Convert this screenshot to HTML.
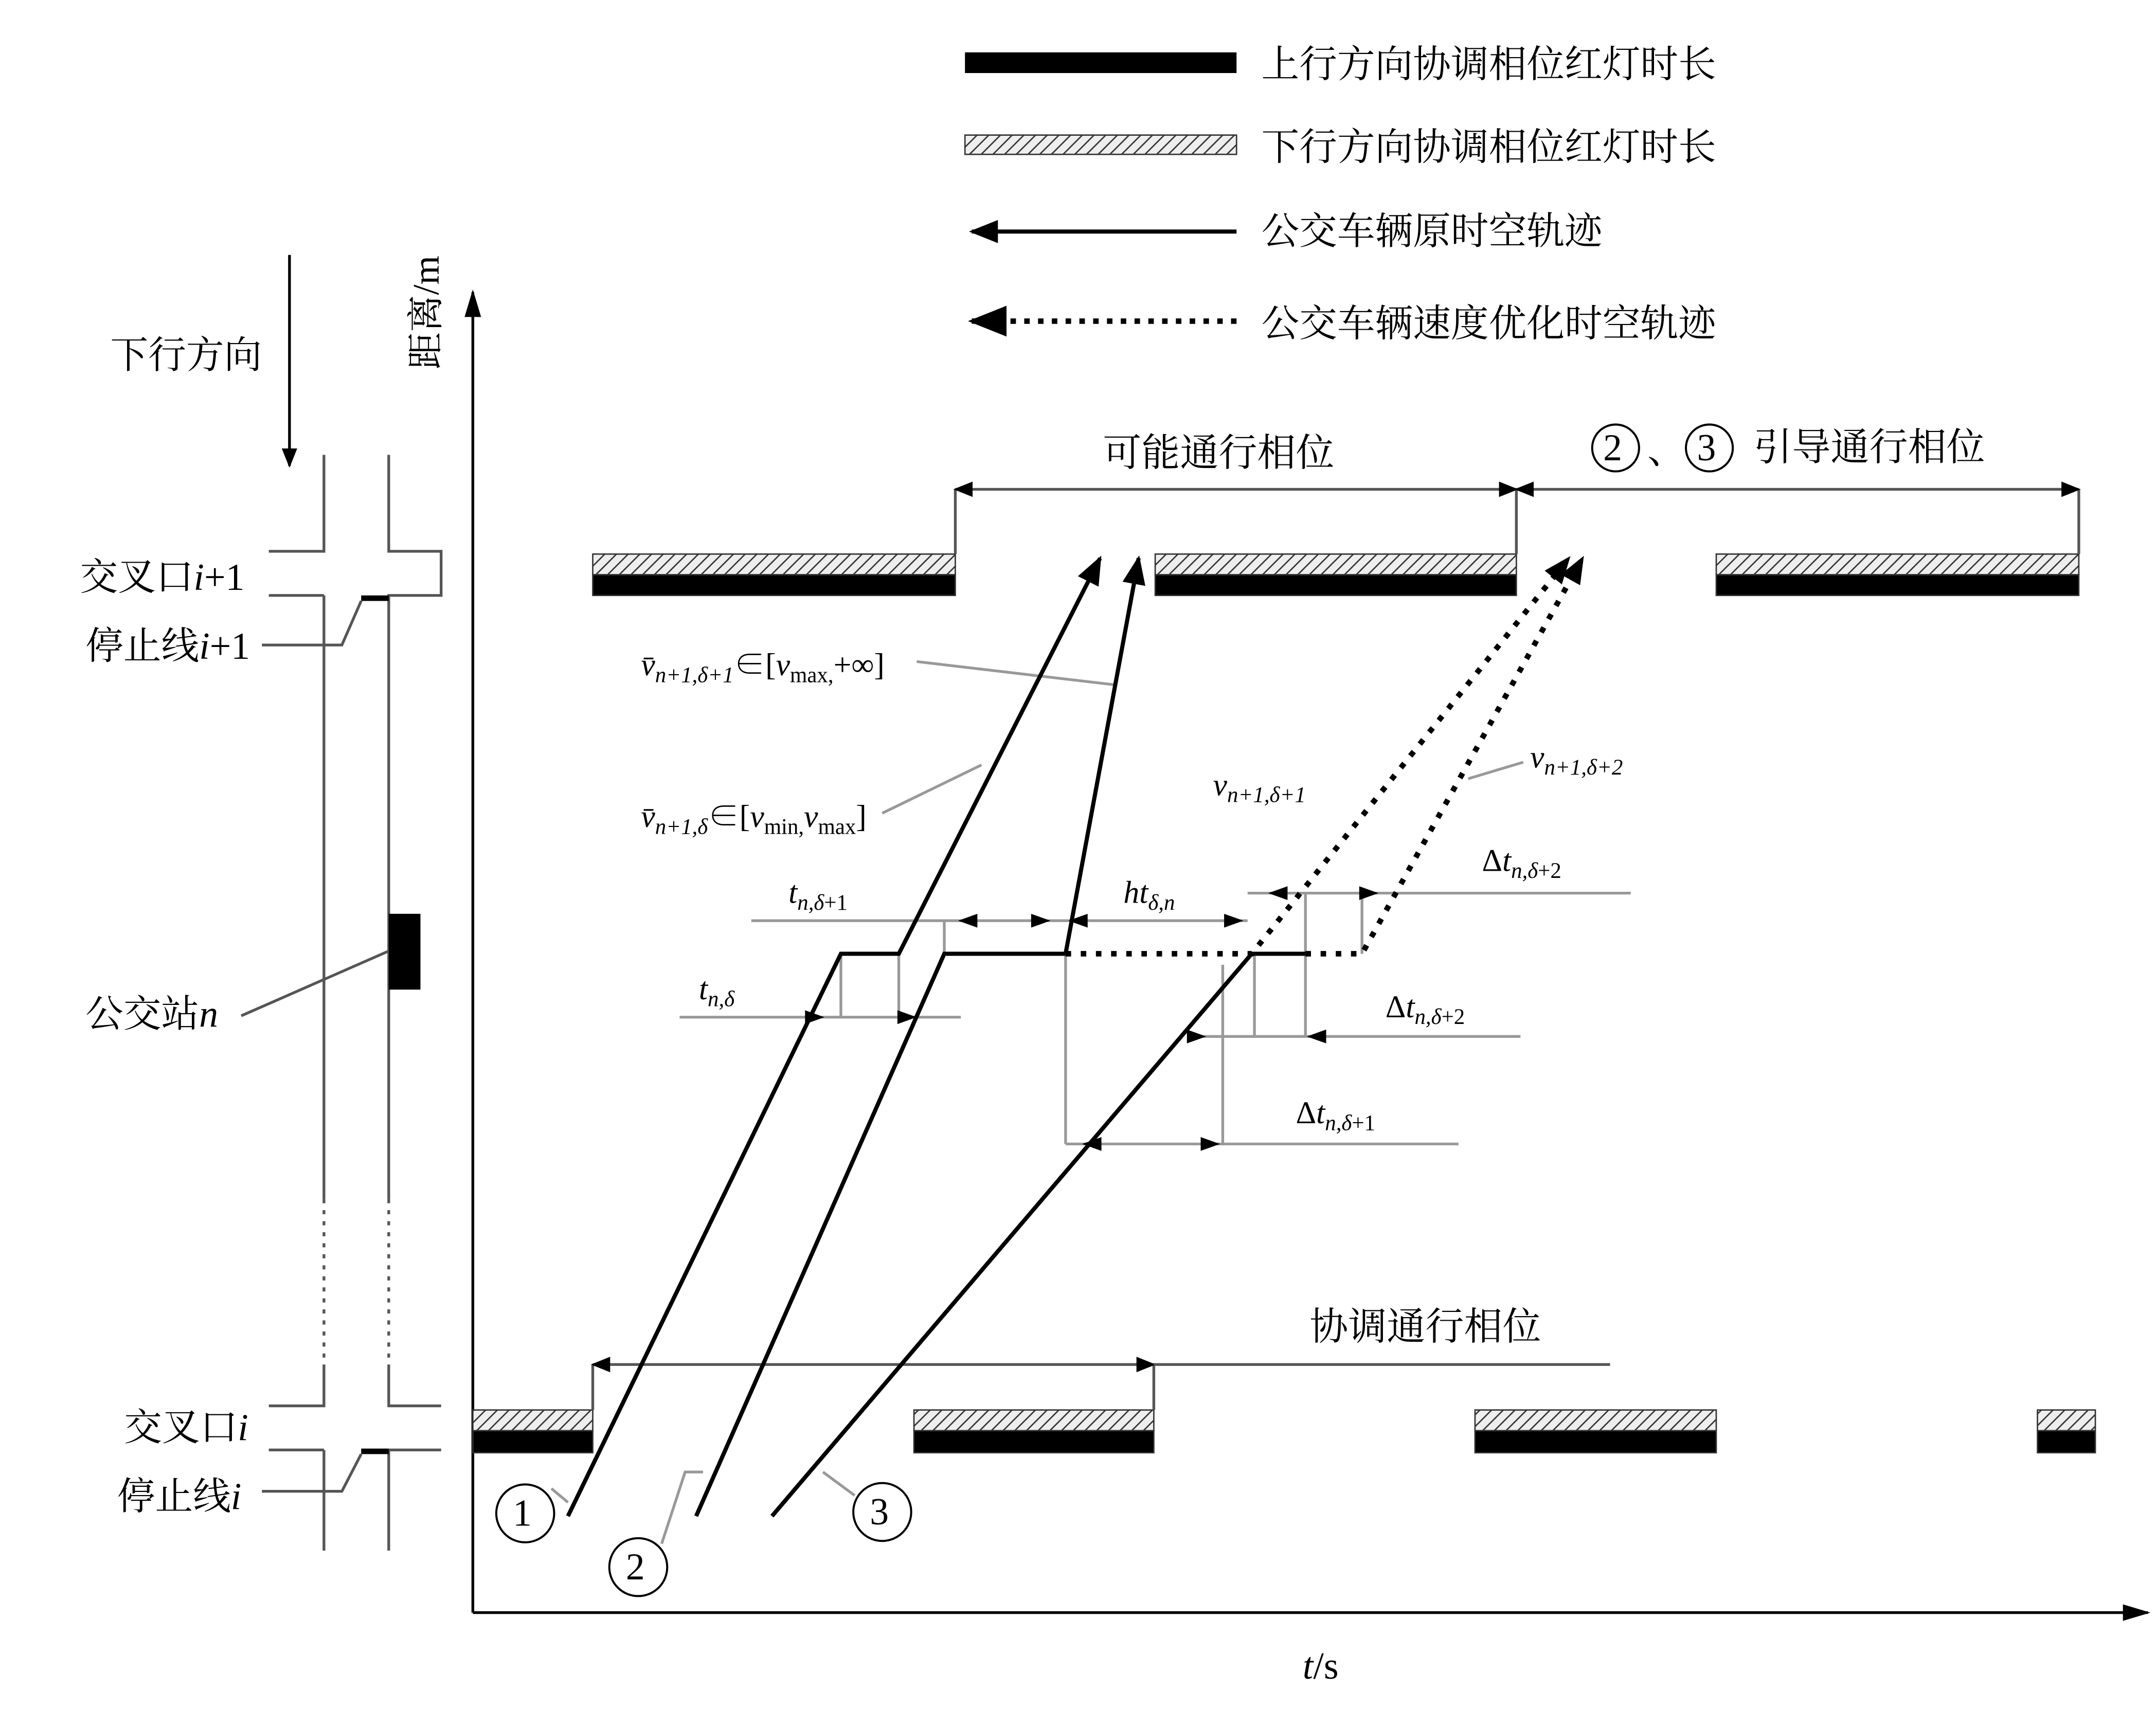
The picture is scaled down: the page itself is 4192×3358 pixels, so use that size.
<!DOCTYPE html>
<html><head><meta charset="utf-8"><style>html,body{margin:0;padding:0;background:#fff}svg{display:block}</style></head><body>
<svg width="4192" height="3358" viewBox="0 0 1564 1253" preserveAspectRatio="none" xmlns="http://www.w3.org/2000/svg">
<defs>
<pattern id="h" width="6" height="6" patternUnits="userSpaceOnUse" patternTransform="rotate(45)"><rect width="6" height="6" fill="#eee"/><line x1="0" y1="0" x2="0" y2="6" stroke="#333" stroke-width="2"/></pattern>
<marker id="a" viewBox="0 0 10 10" refX="9" refY="5" markerWidth="7" markerHeight="7" orient="auto-start-reverse"><path d="M0,1 L10,5 L0,9 z" fill="#000"/></marker>
<marker id="d" viewBox="0 0 10 10" refX="9" refY="5" markerWidth="5" markerHeight="5" orient="auto-start-reverse"><path d="M0,1 L10,5 L0,9 z" fill="#000"/></marker>
<marker id="s" viewBox="0 0 10 10" refX="9" refY="5" markerWidth="10" markerHeight="10" orient="auto-start-reverse"><path d="M0,2 L10,5 L0,8 z" fill="#000"/></marker>
</defs>
<g font-family="'Liberation Serif','Noto Serif CJK SC',serif" font-size="27.5" fill="#000">
<!-- legend -->
<rect x="700" y="38" width="197" height="15" fill="#000"/>
<text x="915" y="56">上行方向协调相位红灯时长</text>
<rect x="700" y="98" width="197" height="14" fill="url(#h)" stroke="#333"/>
<text x="915" y="116">下行方向协调相位红灯时长</text>
<line x1="897" y1="168" x2="705" y2="168" stroke="#000" stroke-width="3" marker-end="url(#a)"/>
<text x="915" y="177">公交车辆原时空轨迹</text>
<line x1="897" y1="233" x2="705" y2="233" stroke="#000" stroke-width="4" stroke-dasharray="4 6" marker-end="url(#a)"/>
<text x="915" y="244">公交车辆速度优化时空轨迹</text>

<!-- left schematic -->
<line x1="210" y1="185" x2="210" y2="338" stroke="#000" stroke-width="2" marker-end="url(#a)"/>
<text x="80" y="267">下行方向</text>
<g stroke="#555" stroke-width="2" fill="none">
<path d="M235,330 V400 H195 M282,330 V400 H320 V432 H282 V870 M235,432 H195 M235,432 V870 M235,990 V1020 H195 M282,990 V1020 H320 M235,1052 H195 M282,1052 H320 M235,1052 V1125 M282,1052 V1125"/>
<path d="M235,870 V990 M282,870 V990" stroke-dasharray="3 5"/>
<path d="M190,468 H248 L262,436 M190,1082 H248 L262,1055 M175,737 L282,690"/>
</g>
<line x1="262" y1="434" x2="282" y2="434" stroke="#000" stroke-width="4"/>
<line x1="262" y1="1053" x2="282" y2="1053" stroke="#000" stroke-width="4"/>
<rect x="282" y="663" width="23" height="55" fill="#000"/>
<text x="58" y="428">交叉口<tspan font-style="italic">i</tspan>+1</text>
<text x="62" y="478">停止线<tspan font-style="italic">i</tspan>+1</text>
<text x="62" y="745">公交站<tspan font-style="italic">n</tspan></text>
<text x="90" y="1045">交叉口<tspan font-style="italic">i</tspan></text>
<text x="85" y="1095">停止线<tspan font-style="italic">i</tspan></text>

<!-- axes -->
<line x1="343" y1="1170" x2="343" y2="212" stroke="#000" stroke-width="2" marker-end="url(#s)"/>
<line x1="343" y1="1170" x2="1558" y2="1170" stroke="#000" stroke-width="2" marker-end="url(#s)"/>
<text transform="translate(318,268) rotate(-90)" font-size="27">距离/m</text>
<text x="945" y="1218"><tspan font-style="italic">t</tspan>/s</text>

<!-- red bars -->
<g stroke="#333" stroke-width="1">
<rect x="430" y="402" width="263" height="15" fill="url(#h)"/><rect x="430" y="417" width="263" height="15" fill="#000"/>
<rect x="838" y="402" width="262" height="15" fill="url(#h)"/><rect x="838" y="417" width="262" height="15" fill="#000"/>
<rect x="1245" y="402" width="263" height="15" fill="url(#h)"/><rect x="1245" y="417" width="263" height="15" fill="#000"/>
<rect x="343" y="1023" width="87" height="15" fill="url(#h)"/><rect x="343" y="1038" width="87" height="16" fill="#000"/>
<rect x="663" y="1023" width="174" height="15" fill="url(#h)"/><rect x="663" y="1038" width="174" height="16" fill="#000"/>
<rect x="1070" y="1023" width="175" height="15" fill="url(#h)"/><rect x="1070" y="1038" width="175" height="16" fill="#000"/>
<rect x="1478" y="1023" width="42" height="15" fill="url(#h)"/><rect x="1478" y="1038" width="42" height="16" fill="#000"/>
</g>

<!-- brackets -->
<g stroke="#555" stroke-width="2" fill="none">
<path d="M693,355 V402 M1100,355 V402 M1508,355 V402 M430,990 V1023 M837,990 V1023"/>
<line x1="693" y1="355" x2="1100" y2="355" marker-start="url(#a)" marker-end="url(#a)"/>
<line x1="1100" y1="355" x2="1508" y2="355" marker-start="url(#a)" marker-end="url(#a)"/>
<line x1="430" y1="990" x2="837" y2="990" marker-start="url(#a)" marker-end="url(#a)"/>
<line x1="837" y1="990" x2="1168" y2="990"/>
</g>
<text x="800" y="338" font-size="28">可能通行相位</text>
<circle cx="1172" cy="325" r="17" fill="none" stroke="#000" stroke-width="1.5"/><text x="1163" y="334">2</text>
<text x="1195" y="336">、</text>
<circle cx="1240" cy="325" r="17" fill="none" stroke="#000" stroke-width="1.5"/><text x="1231" y="334">3</text>
<text x="1272" y="334" font-size="28">引导通行相位</text>
<text x="950" y="972" font-size="28">协调通行相位</text>

<!-- helper lines -->
<g stroke="#999" stroke-width="2" fill="none">
<path d="M545,668 H905 M493,738 H697 M905,648 H1183 M862,752 H1103 M773,830 H1058"/>
<path d="M773,692 V830 M887,700 V830 M910,692 V752 M947,648 V752 M988,648 V692 M685,668 V692 M652,692 V738 M610,692 V738"/>
<path d="M665,480 L810,497 M640,590 L712,555 M1065,565 L1105,553 M620,1085 L597,1068 M480,1120 L497,1068 H510 M400,1080 L412,1090"/>
</g>
<g fill="#000">
<path d="M598,738 l-14,-5 v10z M665,738 l-14,-5 v10z M695,668 l14,-5 v10z M762,668 l-14,-5 v10z M775,668 l14,-5 v10z M902,668 l-14,-5 v10z M920,648 l14,-5 v10z M1000,648 l-14,-5 v10z M875,752 l-14,-5 v10z M948,752 l14,-5 v10z M785,830 l14,-5 v10z M885,830 l-14,-5 v10z"/>
</g>

<!-- trajectories -->
<g stroke="#000" stroke-width="3" fill="none">
<polyline points="412,1100 610,692 652,692 798,405" marker-end="url(#a)"/>
<polyline points="505,1100 685,692 773,692 826,405" marker-end="url(#a)"/>
<polyline points="560,1100 908,692 947,692"/>
</g>
<g stroke="#000" stroke-width="4" fill="none" stroke-dasharray="4 7">
<polyline points="773,692 908,692 1138,405" marker-end="url(#d)"/>
<polyline points="947,692 988,692 1148,405" marker-end="url(#d)"/>
</g>

<!-- circles -->
<g fill="none" stroke="#000" stroke-width="1.5">
<circle cx="381" cy="1098" r="21"/><circle cx="463" cy="1137" r="21"/><circle cx="640" cy="1097" r="21"/>
</g>
<text x="372" y="1107">1</text><text x="454" y="1146">2</text><text x="631" y="1106">3</text>

<!-- math labels -->
<g font-size="23">
<text x="465" y="490" font-style="italic">v̄<tspan font-size="16" dy="5">n+1,δ+1</tspan><tspan dy="-5" font-style="normal">∈[</tspan>v<tspan font-size="16" dy="5" font-style="normal">max,</tspan><tspan dy="-5" font-style="normal">+∞]</tspan></text>
<text x="465" y="600" font-style="italic">v̄<tspan font-size="16" dy="5">n+1,δ</tspan><tspan dy="-5" font-style="normal">∈[</tspan>v<tspan font-size="16" dy="5" font-style="normal">min,</tspan><tspan dy="-5">v</tspan><tspan font-size="16" dy="5" font-style="normal">max</tspan><tspan dy="-5" font-style="normal">]</tspan></text>
<text x="572" y="655" font-style="italic">t<tspan font-size="16" dy="5">n,δ</tspan><tspan font-size="16" font-style="normal">+1</tspan></text>
<text x="507" y="725" font-style="italic">t<tspan font-size="16" dy="5">n,δ</tspan></text>
<text x="815" y="655" font-style="italic">ht<tspan font-size="16" dy="5">δ,n</tspan></text>
<text x="880" y="577" font-style="italic">v<tspan font-size="16" dy="5">n+1,δ+1</tspan></text>
<text x="1110" y="557" font-style="italic">v<tspan font-size="16" dy="5">n+1,δ+2</tspan></text>
<text x="1075" y="632">Δ<tspan font-style="italic">t</tspan><tspan font-size="16" dy="5" font-style="italic">n,δ</tspan><tspan font-size="16">+2</tspan></text>
<text x="1005" y="738">Δ<tspan font-style="italic">t</tspan><tspan font-size="16" dy="5" font-style="italic">n,δ</tspan><tspan font-size="16">+2</tspan></text>
<text x="940" y="815">Δ<tspan font-style="italic">t</tspan><tspan font-size="16" dy="5" font-style="italic">n,δ</tspan><tspan font-size="16">+1</tspan></text>
</g>
</g>
</svg>
</body></html>
